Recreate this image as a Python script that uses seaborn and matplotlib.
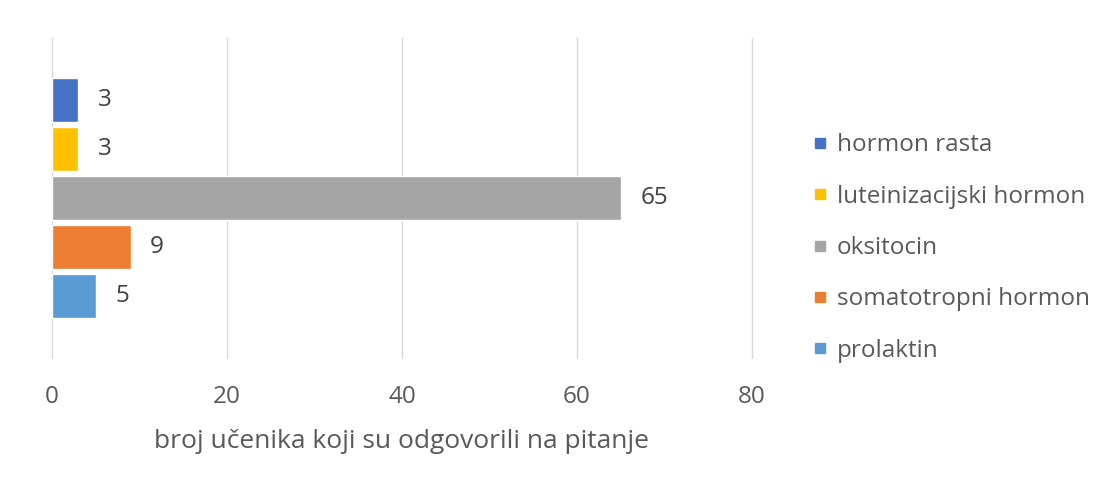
import matplotlib
matplotlib.use("Agg")
import matplotlib.pyplot as plt
import seaborn as sns
import pandas as pd

series = ["hormon rasta", "luteinizacijski hormon", "oksitocin",
          "somatotropni hormon", "prolaktin"]
counts = [3, 3, 65, 9, 5]
colors = ["#4472C4", "#FFC000", "#A5A5A5", "#ED7D31", "#5B9BD5"]
x_ticks = [0, 20, 40, 60, 80]
x_label = "broj učenika koji su odgovorili na pitanje"

df = pd.DataFrame({"odgovor": series, "broj": counts, "grupa": [""] * len(series)})

sns.set_theme(style="white")
plt.rcParams["font.family"] = ["Open Sans", "DejaVu Sans"]

fs = 17.5
fig = plt.figure(figsize=(11.05, 4.86), dpi=100)
ax = fig.add_axes([0.047, 0.263, 0.6335, 0.659])

sns.barplot(data=df, x="broj", y="grupa", hue="odgovor", hue_order=series,
            palette=colors, orient="h", width=0.766, gap=0.1,
            saturation=1, ax=ax, legend=True)

ax.set_xlim(0, 80)
ax.set_ylim(0.5, -0.5)
ax.set_xticks(x_ticks)
ax.set_xticklabels([str(t) for t in x_ticks], fontsize=fs, color="#595959")
ax.tick_params(axis="x", length=0, pad=19)
ax.set_yticks([])
ax.set_ylabel("")
ax.set_xlabel(x_label, fontsize=19, color="#595959", labelpad=15)
ax.grid(axis="x", color="#d9d9d9", linewidth=1)
for gl in ax.get_xgridlines():
    gl.set_clip_on(False)
ax.set_axisbelow(True)
for s in ax.spines.values():
    s.set_visible(False)

for cont in ax.containers:
    ax.bar_label(cont, padding=14, fontsize=fs, color="#404040")

handles = [plt.Line2D([], [], marker="s", linestyle="", markersize=7,
                      markerfacecolor=c, markeredgecolor=c) for c in colors]
ax.legend(handles, series, loc="center left", bbox_to_anchor=(1.052, 0.344),
          frameon=False, fontsize=fs, labelcolor="#595959",
          handletextpad=0.3, handlelength=0.8, labelspacing=1.13)

fig.savefig("out.png", dpi=100, facecolor="white")
